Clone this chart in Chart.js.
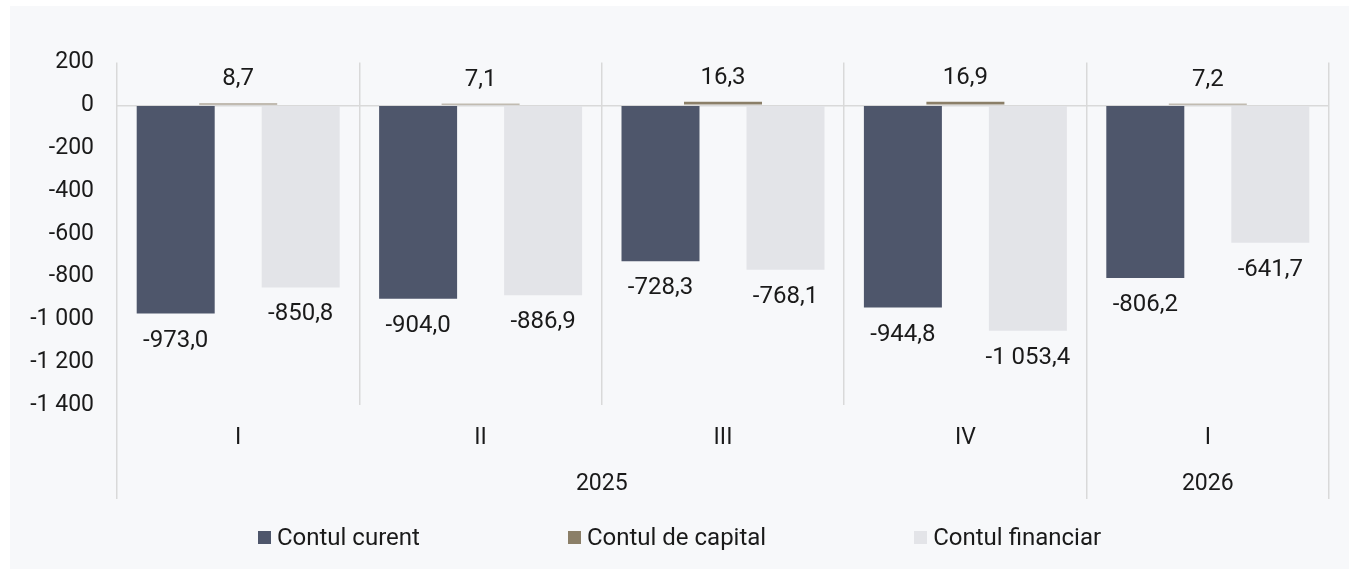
<!DOCTYPE html>
<html>
<head>
<meta charset="utf-8">
<script src="https://cdn.jsdelivr.net/npm/chart.js@4.4.1/dist/chart.umd.min.js"></script>
<style>
  body { margin: 0; background: #ffffff; }
  #wrap { position: absolute; left: 10px; top: 6px; width: 1339px; height: 563px; background: #f7f8fa; }
  #chart { position: absolute; left: 0; top: 0; }
  #legend { position: absolute; left: 0; top: 517px; width: 100%; display: flex; justify-content: center; gap: 148px;
            font: 24px Roboto, sans-serif; color: #1a1a1a; }
  #legend .item { display: flex; align-items: center; white-space: nowrap; }
  #legend .box { width: 13px; height: 13px; margin-right: 6px; }
</style>
</head>
<body>
<div id="wrap">
  <canvas id="chart" width="1339" height="563"></canvas>
  <div id="legend"></div>
</div>
<script>
// quarters and years
const quarters = ['I', 'II', 'III', 'IV', 'I'];
const yearLabels = ['2025', '2026'];
const yearPositions = [2, 4.5]; // centre of each year group, in category units

// mil. euro
const contulCurent = [-973.0, -904.0, -728.3, -944.8, -806.2];
const contulCapital = [8.7, 7.1, 16.3, 16.9, 7.2];
const contulFinanciar = [-850.8, -886.9, -768.1, -1053.4, -641.7];

const seriesNames = ['Contul curent', 'Contul de capital', 'Contul financiar'];
const seriesColors = ['#4e566b', '#8b7f68', '#e3e4e8'];

const gridColor = '#d9d9d9';
const textColor = '#1a1a1a';

function fmt(v, dec) {
    const parts = Math.abs(v).toFixed(dec).split('.');
    const whole = parts[0].replace(/\B(?=(\d{3})+(?!\d))/g, ' ');
    return (v < 0 ? '-' : '') + whole + (dec ? ',' + parts[1] : '');
}

// value labels above / below each bar
const valueLabels = {
    id: 'valueLabels',
    afterDatasetsDraw(chart) {
        const ctx = chart.ctx;
        ctx.save();
        ctx.font = '24px Roboto';
        ctx.fillStyle = textColor;
        ctx.textAlign = 'center';
        ctx.textBaseline = 'middle';
        chart.data.datasets.forEach((ds, di) => {
            chart.getDatasetMeta(di).data.forEach((bar, i) => {
                const v = ds.data[i];
                const y = v < 0 ? bar.y + 27 : bar.y - 24;
                ctx.fillText(fmt(v, 1), bar.x, y);
            });
        });
        ctx.restore();
    }
};

const ctx = document.getElementById('chart');

const chart = new Chart(ctx, {
    type: 'bar',
    data: {
        labels: quarters,
        datasets: [contulCurent, contulCapital, contulFinanciar].map((data, i) => ({
            label: seriesNames[i],
            data: data,
            backgroundColor: seriesColors[i],
            borderWidth: 0,
            categoryPercentage: 0.7735,
            barPercentage: 1.248,
            xAxisID: 'x'
        }))
    },
    options: {
        responsive: false,
        animation: false,
        events: [],
        layout: {
            padding: { left: 0, right: 20, top: 56.5, bottom: 68 }
        },
        plugins: {
            legend: { display: false },
            tooltip: { enabled: false }
        },
        scales: {
            x: {
                type: 'category',
                position: 'bottom',
                weight: 0,
                border: { display: false },
                grid: {
                    offset: true,
                    color: gridColor,
                    lineWidth: 1.5,
                    tickLength: 94,
                    // only the year boundaries run down through the labels
                    tickColor: c => (c.type !== 'tick' || c.index === 0 || c.index === 4) ? gridColor : 'transparent'
                },
                ticks: {
                    color: textColor,
                    font: { family: 'Roboto', size: 23 },
                    padding: -75,
                    maxRotation: 0,
                    autoSkip: false
                },
                afterFit: s => { s.height = 46; }
            },
            x2: {
                type: 'linear',
                position: 'bottom',
                weight: 1,
                offset: false,
                min: 0,
                max: quarters.length,
                border: { display: false },
                grid: { display: false, drawTicks: false, offset: false },
                afterBuildTicks: s => { s.ticks = yearPositions.map(v => ({ value: v })); },
                ticks: {
                    color: textColor,
                    font: { family: 'Roboto', size: 23 },
                    padding: 19,
                    maxRotation: 0,
                    autoSkip: false,
                    callback: v => yearLabels[yearPositions.indexOf(v)]
                },
                afterFit: s => { s.height = 50; }
            },
            y: {
                min: -1400,
                max: 200,
                border: { display: false },
                grid: {
                    drawTicks: false,
                    lineWidth: 1.5,
                    color: c => c.tick && c.tick.value === 0 ? gridColor : 'transparent'
                },
                ticks: {
                    stepSize: 200,
                    color: textColor,
                    font: { family: 'Roboto', size: 23 },
                    padding: 23,
                    callback: v => fmt(v, 0)
                },
                afterFit: s => { s.width = 107; }
            }
        }
    },
    plugins: [valueLabels]
});

// legend built from the chart's own datasets
const legend = document.getElementById('legend');
chart.data.datasets.forEach(ds => {
    const item = document.createElement('div');
    item.className = 'item';
    const box = document.createElement('span');
    box.className = 'box';
    box.style.background = ds.backgroundColor;
    const txt = document.createElement('span');
    txt.textContent = ds.label;
    item.appendChild(box);
    item.appendChild(txt);
    legend.appendChild(item);
});
</script>
</body>
</html>
